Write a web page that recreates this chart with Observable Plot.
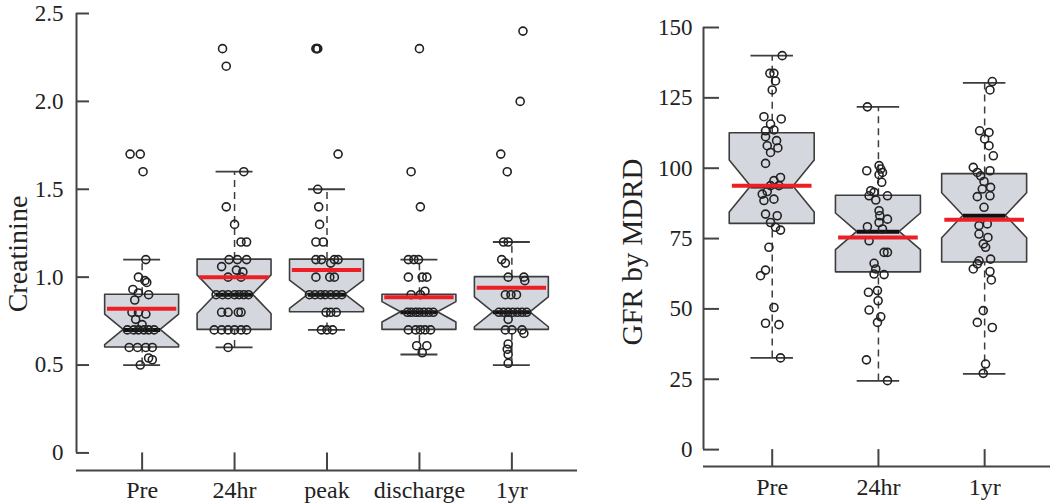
<!DOCTYPE html>
<html><head><meta charset="utf-8">
<script src="https://cdn.jsdelivr.net/npm/d3@7"></script>
<script src="https://cdn.jsdelivr.net/npm/@observablehq/plot@0.6"></script>
<style>
html,body{margin:0;padding:0;background:#fff;}
#wrap{display:flex;width:1050px;height:504px;overflow:hidden;background:#fff;}
</style></head><body><div id="wrap"></div>
<script>
// ---------- Left panel: Creatinine ----------
const creatCats = ["Pre", "24hr", "peak", "discharge", "1yr"];
const creatTicks = [0, 0.5, 1.0, 1.5, 2.0, 2.5];
const creatQ1 = [0.6, 0.7, 0.8, 0.7, 0.7];
const creatMed = [0.7, 0.9, 0.9, 0.8, 0.8];
const creatQ3 = [0.9, 1.1, 1.1, 0.9, 1.0];
const creatLo = [0.5, 0.6, 0.7, 0.56, 0.5];
const creatHi = [1.1, 1.6, 1.5, 1.1, 1.2];
const creatMean = [0.82, 1.0, 1.04, 0.885, 0.94];
const creatNotch = [0.087, 0.11, 0.08, 0.058, 0.085];

const creatPre = [1.7, 1.7, 1.6, 1.1, 1.0, 0.98, 0.97, 0.93, 0.91, 0.9, 0.87, 0.8, 0.8, 0.79, 0.76, 0.73, 0.7, 0.7, 0.7, 0.7, 0.7, 0.7, 0.6, 0.6, 0.6, 0.6, 0.54, 0.53, 0.5];
const creatPreJit = [-0.13, -0.02, 0.01, 0.04, -0.04, 0.03, 0.05, -0.1, -0.04, 0.07, -0.08, -0.11, -0.04, 0.04, -0.07, 0.0, -0.16, -0.09, -0.04, 0.02, 0.07, 0.13, -0.14, -0.05, 0.04, 0.11, 0.07, 0.11, -0.02];
const creat24 = [2.3, 2.2, 1.6, 1.4, 1.3, 1.2, 1.2, 1.1, 1.1, 1.1, 1.06, 1.04, 1.03, 1.0, 1.0, 0.9, 0.9, 0.9, 0.9, 0.9, 0.9, 0.9, 0.8, 0.8, 0.8, 0.8, 0.7, 0.7, 0.7, 0.7, 0.7, 0.7, 0.6];
const creat24Jit = [-0.13, -0.09, 0.1, -0.09, 0, 0.07, 0.13, -0.06, 0.03, 0.13, -0.14, 0.02, 0.09, -0.07, 0.07, -0.2, -0.13, -0.07, 0, 0.05, 0.1, 0.15, -0.14, -0.07, 0.04, 0.07, -0.22, -0.14, -0.07, 0, 0.07, 0.13, -0.07];
const creatPeak = [2.3, 2.3, 2.3, 1.7, 1.5, 1.4, 1.3, 1.2, 1.2, 1.1, 1.1, 1.1, 1.1, 1.08, 1.0, 1.0, 1.0, 0.9, 0.9, 0.9, 0.9, 0.9, 0.9, 0.9, 0.8, 0.8, 0.8, 0.7, 0.7, 0.7];
const creatPeakJit = [-0.12, -0.11, -0.1, 0.12, -0.1, -0.09, -0.08, -0.12, -0.04, -0.12, -0.06, 0.08, 0.12, 0.04, -0.12, 0.03, 0.08, -0.19, -0.13, -0.07, -0.02, 0.04, 0.1, 0.16, -0.01, 0.04, 0.1, -0.06, 0, 0.06];
const creatDis = [2.3, 1.6, 1.4, 1.1, 1.1, 1.1, 1.0, 1.0, 1.0, 0.9, 0.9, 0.92, 0.8, 0.8, 0.8, 0.8, 0.8, 0.8, 0.8, 0.7, 0.7, 0.7, 0.7, 0.7, 0.61, 0.61, 0.57];
const creatDisJit = [0, -0.09, 0.01, -0.12, -0.06, -0.01, -0.12, 0.03, 0.08, -0.09, 0.01, 0.06, -0.13, -0.09, -0.04, 0, 0.05, 0.1, 0.15, -0.12, -0.04, 0.01, 0.06, 0.12, -0.03, 0.08, 0.03];
const creat1y = [2.4, 2.0, 1.7, 1.6, 1.2, 1.2, 1.1, 1.08, 1.0, 1.0, 0.98, 0.9, 0.9, 0.9, 0.8, 0.8, 0.8, 0.8, 0.8, 0.8, 0.8, 0.76, 0.7, 0.7, 0.7, 0.68, 0.62, 0.59, 0.56, 0.51];
const creat1yJit = [0.12, 0.09, -0.12, -0.05, -0.09, -0.04, -0.11, -0.07, -0.04, 0.13, 0.14, -0.07, -0.01, 0.05, -0.14, -0.09, -0.04, 0.01, 0.06, 0.11, 0.16, -0.04, -0.07, 0, 0.11, 0.13, -0.04, -0.05, -0.04, -0.04];

// ---------- Right panel: GFR by MDRD ----------
const gfrCats = ["Pre", "24hr", "1yr"];
const gfrTicks = [0, 25, 50, 75, 100, 125, 150];
const gfrQ1 = [80.2, 63.0, 66.5];
const gfrMed = [93.5, 77.4, 83.1];
const gfrQ3 = [112.4, 90.2, 97.9];
const gfrLo = [32.6, 24.4, 26.9];
const gfrHi = [140, 121.8, 130.3];
const gfrMean = [93.8, 75.4, 81.7];
const gfrNotch = [9.2, 6.5, 8.0];

const gfrPre = [140, 133.7, 133.7, 131, 127.8, 118.3, 117.5, 115.7, 113.3, 113.6, 111.2, 109.8, 108, 107.2, 105.6, 101.7, 96.7, 95.6, 93.8, 93.8, 91.7, 90.8, 89, 88.5, 83.7, 83.1, 80.7, 79, 78, 71.9, 63.8, 61.8, 50.5, 44.9, 44.4, 32.6];
const gfrPreJit = [0.094, -0.022, 0.016, 0.031, 0, -0.078, 0.085, -0.016, -0.063, 0.016, -0.063, 0.041, -0.047, 0.053, -0.016, -0.063, 0.078, 0.016, -0.016, 0.063, -0.047, -0.094, 0.016, -0.078, -0.063, 0.047, -0.016, 0.031, 0.078, -0.031, -0.063, -0.11, 0.016, -0.063, 0.063, 0.078];
const gfr24 = [121.8, 100.9, 99.7, 99.1, 97.7, 98.5, 95, 92, 91.4, 90.2, 88.7, 90.2, 84.9, 83.1, 81.9, 80.7, 79.2, 78.4, 74.2, 70.1, 70.1, 66.2, 64.2, 62.4, 62.2, 55.9, 56.5, 52.9, 49.6, 47.2, 45.2, 31.9, 24.5];
const gfr24Jit = [-0.104, 0.006, 0.022, -0.11, 0.006, 0.038, 0.031, -0.072, -0.041, -0.088, -0.025, 0.085, 0.006, 0.013, 0.085, 0.006, -0.104, 0.038, -0.088, 0.053, 0.085, -0.041, -0.025, -0.041, 0.053, -0.094, -0.009, -0.003, -0.088, 0.022, -0.009, -0.113, 0.085];
const gfr1y = [130.8, 127.8, 113.3, 112.7, 110.4, 108, 104.4, 100.3, 98.5, 99.1, 97.3, 95.3, 93.2, 92.6, 89.9, 90.2, 86.1, 79.6, 80.2, 76.6, 75.4, 73.1, 71.9, 67.1, 67.7, 64.2, 66, 63.3, 60.3, 49.4, 45.2, 43.4, 30.4, 27.1];
const gfr1yJit = [0.072, 0.05, -0.047, 0.041, 0, 0.041, 0.082, -0.107, -0.069, 0.05, -0.038, -0.006, 0.056, -0.022, -0.069, 0.05, -0.006, -0.053, 0.025, -0.053, 0.031, -0.013, 0.009, -0.053, 0.056, -0.107, -0.069, 0.05, 0.063, -0.013, -0.069, 0.072, 0.009, -0.013];

// ---------- drawing ----------
const BOX = "#d4d7de", EDGE = "#3d3d3d", INK = "#222", RED = "#ec1f26";
const HALF = 0.4, NOTCHW = 0.2, CAP = 0.2, MEANW = 0.375;

function panel(o) {
  const idx = o.cats.map((_, i) => i);
  const stats = idx.map(i => ({i, q1: o.q1[i], med: o.med[i], q3: o.q3[i], lo: o.lo[i], hi: o.hi[i], mean: o.mean[i], n: o.notch[i]}));
  const verts = stats.flatMap(s => [
    {g: s.i, y: s.q1, x1: s.i - HALF, x2: s.i + HALF},
    {g: s.i, y: s.med - s.n, x1: s.i - HALF, x2: s.i + HALF},
    {g: s.i, y: s.med, x1: s.i - NOTCHW, x2: s.i + NOTCHW},
    {g: s.i, y: s.med + s.n, x1: s.i - HALF, x2: s.i + HALF},
    {g: s.i, y: s.q3, x1: s.i - HALF, x2: s.i + HALF}
  ]);
  const pts = o.groups.flatMap((vals, i) => vals.map((v, j) => ({v, x: i + o.jit[i][j]})));
  const top = o.yTicks[o.yTicks.length - 1];
  return Plot.plot({
    width: o.width, height: 504,
    marginLeft: o.marginLeft, marginRight: o.marginRight, marginTop: o.marginTop, marginBottom: o.marginBottom,
    x: {type: "linear", domain: o.xDomain},
    y: {domain: o.yDomain},
    style: {fontFamily: "'Liberation Serif', 'Times New Roman', serif", fontSize: "23px", color: INK, background: "#fff", overflow: "visible"},
    marks: [
      Plot.areaX(verts, {y: "y", x1: "x1", x2: "x2", z: "g", fill: BOX, stroke: EDGE, strokeWidth: 1.6, curve: "linear"}),
      Plot.ruleX(stats, {x: "i", y1: "q3", y2: "hi", stroke: EDGE, strokeWidth: 1.5, strokeDasharray: "7,5"}),
      Plot.ruleX(stats, {x: "i", y1: "lo", y2: "q1", stroke: EDGE, strokeWidth: 1.5, strokeDasharray: "7,5"}),
      Plot.ruleY(stats, {y: "hi", x1: d => d.i - CAP, x2: d => d.i + CAP, stroke: EDGE, strokeWidth: 1.8}),
      Plot.ruleY(stats, {y: "lo", x1: d => d.i - CAP, x2: d => d.i + CAP, stroke: EDGE, strokeWidth: 1.8}),
      Plot.ruleY(stats, {y: "med", x1: d => d.i - NOTCHW, x2: d => d.i + NOTCHW, stroke: "#111", strokeWidth: 4}),
      Plot.dot(pts, {x: "x", y: "v", r: 4, stroke: INK, strokeWidth: 1.6, fill: "none"}),
      Plot.ruleY(stats, {y: "mean", x1: d => d.i - MEANW, x2: d => d.i + MEANW, stroke: RED, strokeWidth: 4}),
      // axes
      Plot.ruleX([o.xDomain[0]], {y1: 0, y2: top, stroke: "#444", strokeWidth: 2}),
      Plot.ruleY([o.yDomain[0]], {stroke: "#444", strokeWidth: 2}),
      Plot.ruleX(idx, {y1: o.yDomain[0], y2: 0, stroke: "#444", strokeWidth: 2}),
      Plot.axisY({ticks: o.yTicks, tickSize: o.yTickSize, dx: o.yTickSize, fill: "none", stroke: "#444", strokeWidth: 2, label: null}),
      Plot.axisY({ticks: o.yTicks, tickSize: 0, tickPadding: o.yPad, tickFormat: o.yFormat, label: null, fill: INK, fontSize: 23}),
      Plot.axisX({ticks: idx, tickSize: 0, tickPadding: o.xPad, tickFormat: i => o.cats[i], label: null, fill: INK, fontSize: 24}),
      Plot.text([o.label], {text: d => d, frameAnchor: "left", rotate: -90, textAnchor: "middle", lineAnchor: "bottom", dx: o.labelDx, dy: o.labelDy, fontSize: o.labelSize, fill: INK})
    ]
  });
}

const left = panel({
  cats: creatCats, q1: creatQ1, med: creatMed, q3: creatQ3, lo: creatLo, hi: creatHi, mean: creatMean, notch: creatNotch,
  groups: [creatPre, creat24, creatPeak, creatDis, creat1y],
  jit: [creatPreJit, creat24Jit, creatPeakJit, creatDisJit, creat1yJit],
  yTicks: creatTicks, yFormat: v => v === 0 ? "0" : v.toFixed(1),
  width: 612, marginLeft: 76, marginRight: 35, marginTop: 13, marginBottom: 34,
  xDomain: [-0.71, 4.71], yDomain: [-0.1, 2.5],
  yTickSize: 13, yPad: 13, xPad: 10, label: "Creatinine", labelSize: 28, labelDx: -50, labelDy: 12
});
const right = panel({
  cats: gfrCats, q1: gfrQ1, med: gfrMed, q3: gfrQ3, lo: gfrLo, hi: gfrHi, mean: gfrMean, notch: gfrNotch,
  groups: [gfrPre, gfr24, gfr1y],
  jit: [gfrPreJit, gfr24Jit, gfr1yJit],
  yTicks: gfrTicks, yFormat: v => String(v),
  width: 438, marginLeft: 91, marginRight: 0, marginTop: 27, marginBottom: 38,
  xDomain: [-0.647, 2.62], yDomain: [-6, 150],
  yTickSize: 16, yPad: 11, xPad: 11, label: "GFR by MDRD", labelSize: 29, labelDx: -62, labelDy: 5
});
document.getElementById("wrap").append(left, right);
</script></body></html>
